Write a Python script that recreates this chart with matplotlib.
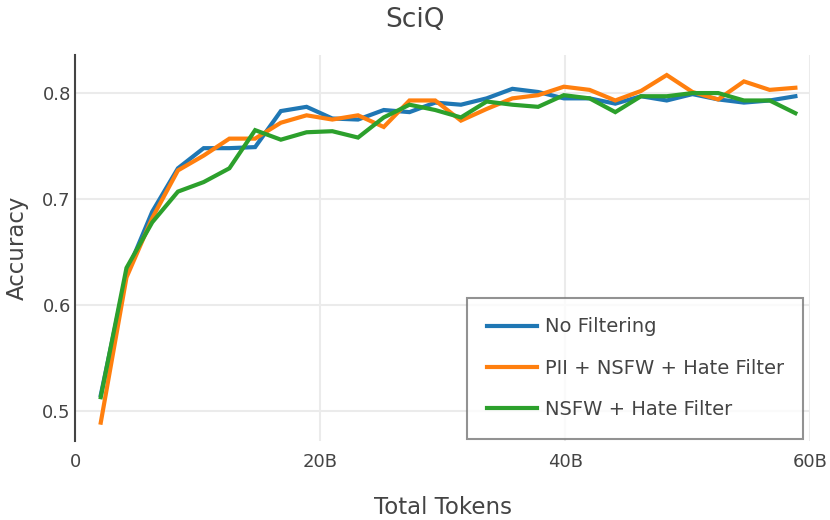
import matplotlib
matplotlib.use("Agg")
import matplotlib.pyplot as plt

plt.rcParams['font.family'] = ['DejaVu Sans']

# tokens in billions
tokens = [2.1 * i for i in range(1, 29)]

no_filter = [0.515, 0.630, 0.688, 0.729, 0.748, 0.748, 0.749, 0.783, 0.787, 0.776,
             0.775, 0.784, 0.782, 0.791, 0.789, 0.795, 0.804, 0.801, 0.795, 0.795,
             0.790, 0.797, 0.793, 0.799, 0.794, 0.791, 0.793, 0.797]
pii_filter = [0.489, 0.626, 0.682, 0.727, 0.741, 0.757, 0.757, 0.772, 0.779, 0.775,
              0.779, 0.768, 0.793, 0.793, 0.774, 0.785, 0.795, 0.798, 0.806, 0.803,
              0.793, 0.802, 0.817, 0.801, 0.794, 0.811, 0.803, 0.805]
nsfw_filter = [0.513, 0.635, 0.678, 0.707, 0.716, 0.729, 0.765, 0.756, 0.763, 0.764,
               0.758, 0.777, 0.789, 0.784, 0.777, 0.792, 0.789, 0.787, 0.798, 0.795,
               0.782, 0.797, 0.797, 0.800, 0.800, 0.793, 0.793, 0.781]

labels = ['No Filtering', 'PII + NSFW + Hate Filter', 'NSFW + Hate Filter']
colors = ['#1f77b4', '#ff7f0e', '#2ca02c']

fig = plt.figure(figsize=(8.3, 5.2), dpi=100)
ax = fig.add_axes([0.0904, 0.152, 0.8856, 0.742])

for ys, lab, c in zip([no_filter, pii_filter, nsfw_filter], labels, colors):
    ax.plot(tokens, ys, color=c, linewidth=3, label=lab, solid_joinstyle='miter')

ax.set_xlim(0, 60)
ax.set_ylim(0.4717, 0.8358)
ax.set_xticks([0, 20, 40, 60])
ax.set_xticklabels(['0', '20B', '40B', '60B'])
ax.set_yticks([0.5, 0.6, 0.7, 0.8])
ax.set_yticklabels(['0.5', '0.6', '0.7', '0.8'])
ax.grid(True, color='#ebebeb', linewidth=1.5)
ax.set_axisbelow(True)
for s in ['top', 'right', 'bottom']:
    ax.spines[s].set_visible(False)
ax.spines['left'].set_color('#444444')
ax.spines['left'].set_linewidth(1.5)
ax.tick_params(length=0, labelsize=13, colors='#444444', pad=3)
ax.tick_params(axis='x', pad=9)

# title is centred on the whole figure
fig.text(0.5, 1 - 20 / 520, 'SciQ', ha='center', va='center', fontsize=19, color='#444444')
ax.set_xlabel('Total Tokens', fontsize=16.5, color='#444444', labelpad=18)
ax.set_ylabel('Accuracy', fontsize=16.5, color='#444444', labelpad=10)

leg = ax.legend(loc='lower right', bbox_to_anchor=(0.991, 0.006), fontsize=14,
                frameon=True, fancybox=False, handlelength=2.6, borderpad=1.0,
                labelspacing=1.15, handletextpad=0.4, borderaxespad=0.0)
leg.get_frame().set_edgecolor('#777777')
leg.get_frame().set_linewidth(1.5)
for t in leg.get_texts():
    t.set_color('#444444')

fig.savefig('out.png', dpi=100)
